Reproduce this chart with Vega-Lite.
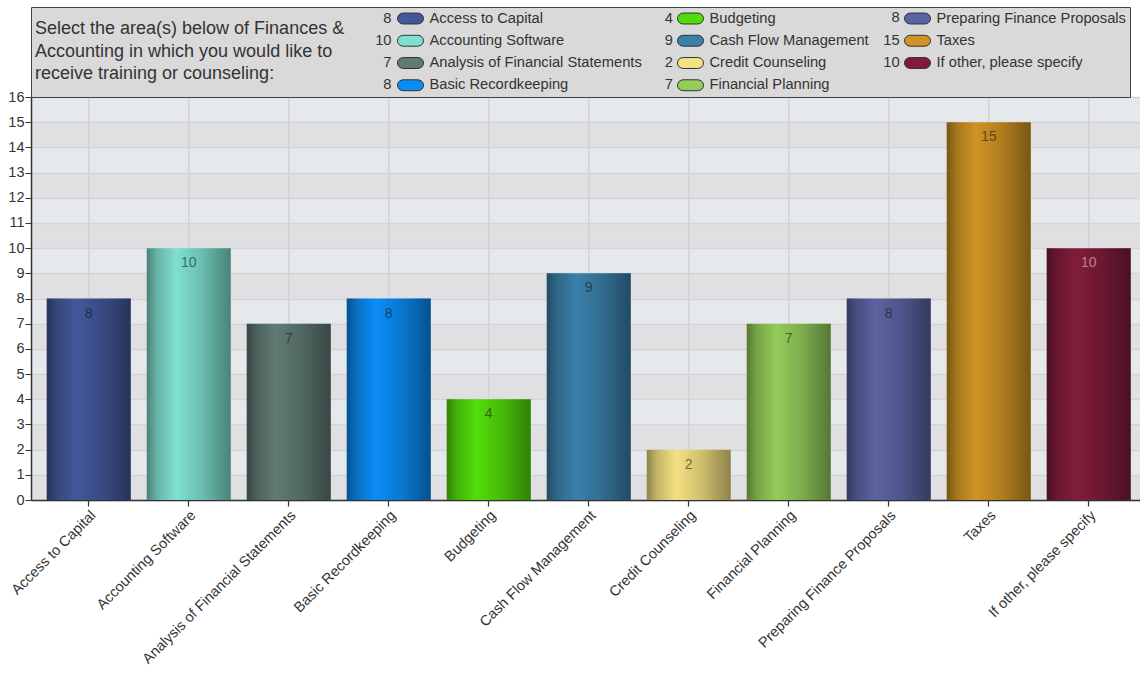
{
  "$schema": "https://vega.github.io/schema/vega-lite/v6.json",
  "width": 1109,
  "height": 403,
  "autosize": {"type": "none"},
  "padding": {"left": 31, "top": 97, "right": 0, "bottom": 173},
  "background": "white",
  "config": {"font": "Liberation Sans", "view": {"fill": "#e0e0e2", "stroke": null}},
  "datasets": {
    "survey": [
      {"area": "Access to Capital", "count": 8},
      {"area": "Accounting Software", "count": 10},
      {"area": "Analysis of Financial Statements", "count": 7},
      {"area": "Basic Recordkeeping", "count": 8},
      {"area": "Budgeting", "count": 4},
      {"area": "Cash Flow Management", "count": 9},
      {"area": "Credit Counseling", "count": 2},
      {"area": "Financial Planning", "count": 7},
      {"area": "Preparing Finance Proposals", "count": 8},
      {"area": "Taxes", "count": 15},
      {"area": "If other, please specify", "count": 10}
    ]
  },
  "data": {"name": "survey"},
  "encoding": {
    "x": {
      "field": "area", "type": "nominal", "sort": null,
      "scale": {"paddingInner": 0.16, "paddingOuter": 0.125, "align": 0.63},
      "axis": {
        "title": null, "grid": false, "labelAngle": -45, "labelFontSize": 14.5, "labelColor": "#333333",
        "labelLimit": 400, "labelPadding": 2, "domainColor": "#333333", "domainWidth": 1.5,
        "tickColor": "#333333", "tickSize": 6, "tickWidth": 1.2
      }
    }
  },
  "layer": [
    {
      "mark": {"type": "rule", "color": "#d2d3d6", "strokeWidth": 1.5},
      "encoding": {}
    },
    {
      "mark": {"type": "bar"},
      "encoding": {
        "y": {
          "field": "count", "type": "quantitative",
          "scale": {"domain": [0, 16], "nice": false},
          "axis": {
            "orient": "right", "values": [1.5, 3.5, 5.5, 7.5, 9.5, 11.5, 13.5, 15.5],
            "grid": true, "gridColor": "#e6e9ec", "gridWidth": 25.19, "gridOpacity": 1,
            "domain": false, "ticks": false, "labels": false, "title": null
          }
        },
        "fill": {
          "field": "area", "type": "nominal",
          "scale": {
            "domain": ["Access to Capital", "Accounting Software", "Analysis of Financial Statements", "Basic Recordkeeping", "Budgeting", "Cash Flow Management", "Credit Counseling", "Financial Planning", "Preparing Finance Proposals", "Taxes", "If other, please specify"],
            "range": ["#42589b", "#7fe0d0", "#607a74", "#0b8cf5", "#52dd0a", "#3a80aa", "#f3e182", "#94cc5a", "#5b63a2", "#d09425", "#801c3a"]
          },
          "legend": {
            "orient": "none", "legendX": 0, "legendY": -90,
            "columns": 3, "gridAlign": "each", "columnPadding": 33, "rowPadding": 6.25,
            "title": ["Select the area(s) below of Finances &", "Accounting in which you would like to", "receive training or counseling:"],
            "titleOrient": "left", "titleAnchor": "middle", "titleBaseline": "middle",
            "titleFontSize": 18, "titleFontWeight": "normal", "titleColor": "#333333",
            "titleLineHeight": 22.5, "titleLimit": 600, "titlePadding": 58,
            "fillColor": "#d9d9d9", "strokeColor": "#444444", "padding": 4,
            "symbolType": "M-1.04,-0.78L1.04,-0.78A0.82,0.78 0 0 1 1.04,0.78L-1.04,0.78A0.82,0.78 0 0 1 -1.04,-0.78Z",
            "symbolSize": 196, "symbolStrokeColor": "#333333", "symbolStrokeWidth": 1, "symbolOpacity": 1,
            "labelFontSize": 14.7, "labelColor": "#333333", "labelOffset": 11.5, "labelLimit": 400
          }
        }
      }
    },
    {
      "mark": {
        "type": "bar", "strokeWidth": 0,
        "color": {
          "gradient": "linear", "x1": 0, "y1": 0, "x2": 1, "y2": 0,
          "stops": [
            {"offset": 0, "color": "rgba(0,0,0,0.42)"},
            {"offset": 0.12, "color": "rgba(0,0,0,0.2)"},
            {"offset": 0.35, "color": "rgba(0,0,0,0)"},
            {"offset": 0.65, "color": "rgba(0,0,0,0.15)"},
            {"offset": 1, "color": "rgba(0,0,0,0.42)"}
          ]
        }
      },
      "encoding": {
        "y": {
          "field": "count", "type": "quantitative",
          "scale": {"domain": [0, 16], "nice": false},
          "axis": {
            "orient": "left", "values": [0, 1, 2, 3, 4, 5, 6, 7, 8, 9, 10, 11, 12, 13, 14, 15, 16],
            "grid": true, "gridColor": "#d3d4d7", "gridWidth": 1.5, "title": null,
            "domainColor": "#333333", "domainWidth": 1.5, "tickColor": "#333333", "tickSize": 6,
            "labelFontSize": 14.5, "labelColor": "#333333", "labelPadding": 1
          }
        },
        "stroke": {
          "field": "area", "type": "nominal",
          "scale": {
            "domain": ["If other, please specify", "Taxes", "Preparing Finance Proposals", "Financial Planning", "Credit Counseling", "Cash Flow Management", "Budgeting", "Basic Recordkeeping", "Analysis of Financial Statements", "Accounting Software", "Access to Capital"],
            "range": ["#000000"]
          },
          "legend": {
            "orient": "none", "legendX": 340.5, "legendY": -86, "zindex": 1, "padding": 0,
            "values": ["Access to Capital", "Accounting Software", "Analysis of Financial Statements", "Basic Recordkeeping"],
            "title": null, "rowPadding": 6.25,
            "symbolType": "M-1.857,-0.05L1.857,-0.05L1.857,0.05L-1.857,0.05Z", "symbolSize": 196, "symbolOpacity": 0, "symbolStrokeWidth": 1,
            "labelAlign": "right", "labelOffset": 5, "labelFontSize": 14.7, "labelColor": "#333333",
            "labelExpr": "pluck(data('survey'), 'count')[indexof(pluck(data('survey'), 'area'), datum.label)]"
          }
        },
        "strokeDash": {
          "field": "area", "type": "nominal",
          "scale": {
            "domain": ["Budgeting", "Cash Flow Management", "Credit Counseling", "Financial Planning", "Preparing Finance Proposals", "Taxes", "If other, please specify", "Access to Capital", "Accounting Software", "Analysis of Financial Statements", "Basic Recordkeeping"],
            "range": [[1, 0]]
          },
          "legend": {
            "orient": "none", "legendX": 622, "legendY": -86, "zindex": 1, "padding": 0,
            "values": ["Budgeting", "Cash Flow Management", "Credit Counseling", "Financial Planning"],
            "title": null, "rowPadding": 6.25,
            "symbolType": "M-1.857,-0.05L1.857,-0.05L1.857,0.05L-1.857,0.05Z", "symbolSize": 196, "symbolOpacity": 0, "symbolStrokeWidth": 1,
            "labelAlign": "right", "labelOffset": 5, "labelFontSize": 14.7, "labelColor": "#333333",
            "labelExpr": "pluck(data('survey'), 'count')[indexof(pluck(data('survey'), 'area'), datum.label)]"
          }
        },
        "strokeWidth": {
          "field": "area", "type": "nominal",
          "scale": {
            "domain": ["Preparing Finance Proposals", "Taxes", "If other, please specify", "Access to Capital", "Accounting Software", "Analysis of Financial Statements", "Basic Recordkeeping", "Budgeting", "Cash Flow Management", "Credit Counseling", "Financial Planning"],
            "range": [0, 0]
          },
          "legend": {
            "orient": "none", "legendX": 849, "legendY": -86, "zindex": 1, "padding": 0,
            "values": ["Preparing Finance Proposals", "Taxes", "If other, please specify"],
            "title": null, "rowPadding": 6.25,
            "symbolType": "M-1.857,-0.05L1.857,-0.05L1.857,0.05L-1.857,0.05Z", "symbolSize": 196, "symbolOpacity": 0, "symbolStrokeWidth": 1,
            "labelAlign": "right", "labelOffset": 5, "labelFontSize": 14.7, "labelColor": "#333333",
            "labelExpr": "pluck(data('survey'), 'count')[indexof(pluck(data('survey'), 'area'), datum.label)]"
          }
        }
      }
    },
    {
      "mark": {"type": "text", "baseline": "middle", "dy": 15, "fontSize": 14, "opacity": 0.55},
      "encoding": {
        "y": {"field": "count", "type": "quantitative", "axis": null},
        "text": {"field": "count", "type": "quantitative"},
        "color": {
          "condition": {"test": "datum.area === 'If other, please specify'", "value": "#ffc8d8"},
          "value": "#111111"
        }
      }
    }
  ],
  "resolve": {"axis": {"y": "independent"}}
}
